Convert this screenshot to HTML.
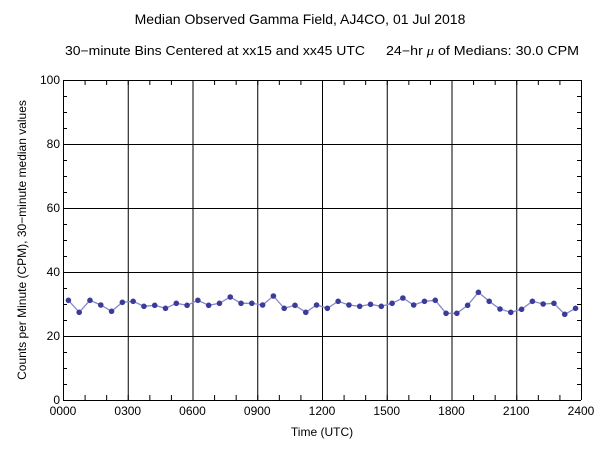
<!DOCTYPE html><html><head><style>body{margin:0;background:#fff}svg{display:block}text{font-family:"Liberation Sans",sans-serif;fill:#000}</style></head><body>
<svg width="600" height="459" xmlns="http://www.w3.org/2000/svg">
<text x="300" y="24" font-size="14" text-anchor="middle">Median Observed Gamma Field, AJ4CO, 01 Jul 2018</text>
<text x="65" y="55" font-size="12.5" textLength="300" lengthAdjust="spacingAndGlyphs">30−minute Bins Centered at xx15 and xx45 UTC</text>
<text x="386" y="55" font-size="12.5" textLength="193" lengthAdjust="spacingAndGlyphs">24−hr <tspan font-style="italic" font-family="Liberation Serif">μ</tspan> of Medians: 30.0 CPM</text>
<g id="g" stroke="#000" stroke-width="1"></g>
<text x="322" y="436" font-size="12" text-anchor="middle">Time (UTC)</text>
<text transform="translate(26,240) rotate(-90)" font-size="12" text-anchor="middle">Counts per Minute (CPM), 30−minute median values</text>
<g id="lab" font-size="12"></g>
<polyline id="ln" fill="none" stroke="#8888cc" stroke-width="1.3"/>
<g id="pts" fill="#3b3b9a"></g>
</svg>
<script>
const ns="http://www.w3.org/2000/svg";
function el(p,t,a,tx){const e=document.createElementNS(ns,t);for(const k in a)e.setAttribute(k,a[k]);if(tx!==undefined)e.textContent=tx;document.getElementById(p).appendChild(e);}
const X=h=>63+h*518/24, Y=v=>400-v*3.2;
for(let i=0;i<=8;i++){const x=X(i*3)+.5;el('g','line',{x1:x,y1:80,x2:x,y2:400});el('lab','text',{x:X(i*3),y:415,'text-anchor':'middle'},String(i*300).padStart(4,'0'));}
for(let i=0;i<=5;i++){const y=Y(i*20)+.5;el('g','line',{x1:63,y1:y,x2:581,y2:y});el('lab','text',{x:60,y:Y(i*20)+4,'text-anchor':'end'},String(i*20));}
for(let h=0;h<24;h++){const x=X(h)+.5;el('g','line',{x1:x,y1:400,x2:x,y2:395});el('g','line',{x1:x,y1:80,x2:x,y2:85});}
for(let v=0;v<100;v+=5){const y=Y(v)+.5;el('g','line',{x1:63,y1:y,x2:67,y2:y});el('g','line',{x1:581,y1:y,x2:577,y2:y});}
const ys=[300.3,312.3,300.3,305,311.3,302.3,301.3,306.3,305.3,308.3,303.3,305.3,300.3,305.3,303.3,297,303.3,303.3,305,296,308.3,305.3,312.3,305,308.3,301.3,305,306.3,304.3,306.3,303.3,298,305,301.3,300.3,313.3,313.3,305.3,292.3,301.3,309,312.3,309.3,301.3,304,303.3,314.3,308.3];
let p=[];ys.forEach((y,i)=>{const x=68.4+i*10.79;p.push(x+','+y);el('pts','circle',{cx:x,cy:y,r:2.8});});
document.getElementById('ln').setAttribute('points',p.join(' '));
</script>
</body></html>
